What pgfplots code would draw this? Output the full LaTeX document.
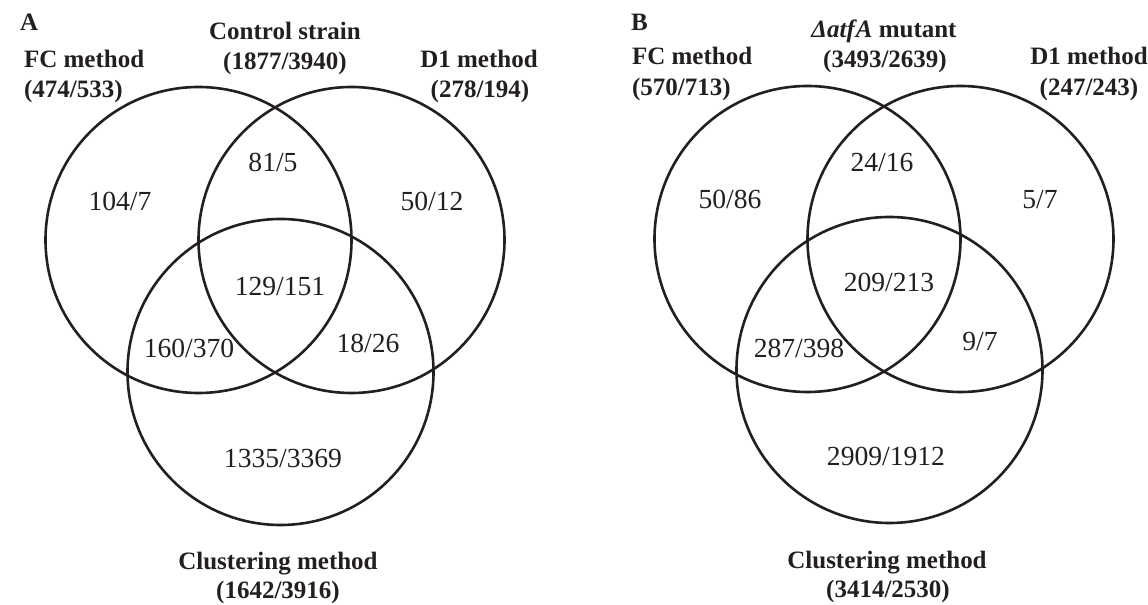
\documentclass[border=0pt]{standalone}
\usepackage{pgfplots}
\pgfplotsset{compat=1.18}
\usepackage{pgfplotstable}
\usepackage{fontspec}
\setmainfont{Liberation Serif}
\definecolor{ink}{HTML}{231F20}
\tikzset{
  num/.style={anchor=base, text=ink, font=\fontsize{13.8}{16}\selectfont},
  lab/.style={anchor=base, text=ink, font=\fontsize{12.5}{15}\selectfont\bfseries},
}
% circle centres (pixel units, y up), radius 153
\pgfplotstableread{
x y
198.5 365
351.5 365
280.5 233
807.5 366
960.5 366
889.5 235
}\circles
\begin{document}
\begin{tikzpicture}
\begin{axis}[
  scale only axis, width=574pt, height=302.5pt,
  xmin=0, xmax=1148, ymin=0, ymax=605,
  hide axis, clip=false,
]
\addplot[only marks, mark=o, mark size=76.5pt, draw=ink, mark options={line width=1.3pt, draw=ink}] table {\circles};
% Panel A
\node[lab, anchor=base west] at (axis cs:13,574) {A};
\node[lab] at (axis cs:285,565) {Control strain};
\node[lab] at (axis cs:285,535) {(1877/3940)};
\node[lab, anchor=base west] at (axis cs:17,537) {FC method};
\node[lab, anchor=base west] at (axis cs:17,507) {(474/533)};
\node[lab] at (axis cs:479,537) {D1 method};
\node[lab] at (axis cs:480,507) {(278/194)};
\node[num] at (axis cs:273,433) {81/5};
\node[num] at (axis cs:120,394) {104/7};
\node[num] at (axis cs:432,394) {50/12};
\node[num] at (axis cs:280,309) {129/151};
\node[num] at (axis cs:189,247) {160/370};
\node[num] at (axis cs:368,252) {18/26};
\node[num] at (axis cs:283,137) {1335/3369};
\node[lab] at (axis cs:278,35) {Clustering method};
\node[lab] at (axis cs:278,6) {(1642/3916)};
% Panel B
\node[lab, anchor=base west] at (axis cs:624,574) {B};
\node[lab] at (axis cs:884,567) {\textit{Δatf\kern0.5pt A} mutant};
\node[lab] at (axis cs:885,537) {(3493/2639)};
\node[lab, anchor=base west] at (axis cs:625,540) {FC method};
\node[lab, anchor=base west] at (axis cs:625,509) {(570/713)};
\node[lab] at (axis cs:1089,540) {D1 method};
\node[lab] at (axis cs:1089,509) {(247/243)};
\node[num] at (axis cs:882,433) {24/16};
\node[num] at (axis cs:730,396) {50/86};
\node[num] at (axis cs:1040,396) {5/7};
\node[num] at (axis cs:889,313) {209/213};
\node[num] at (axis cs:799,247) {287/398};
\node[num] at (axis cs:980,254) {9/7};
\node[num] at (axis cs:886,139) {2909/1912};
\node[lab] at (axis cs:887,36) {Clustering method};
\node[lab] at (axis cs:888,7) {(3414/2530)};
\end{axis}
\pgfresetboundingbox
\useasboundingbox (current axis.south west) rectangle (current axis.north east);
\end{tikzpicture}
\end{document}
